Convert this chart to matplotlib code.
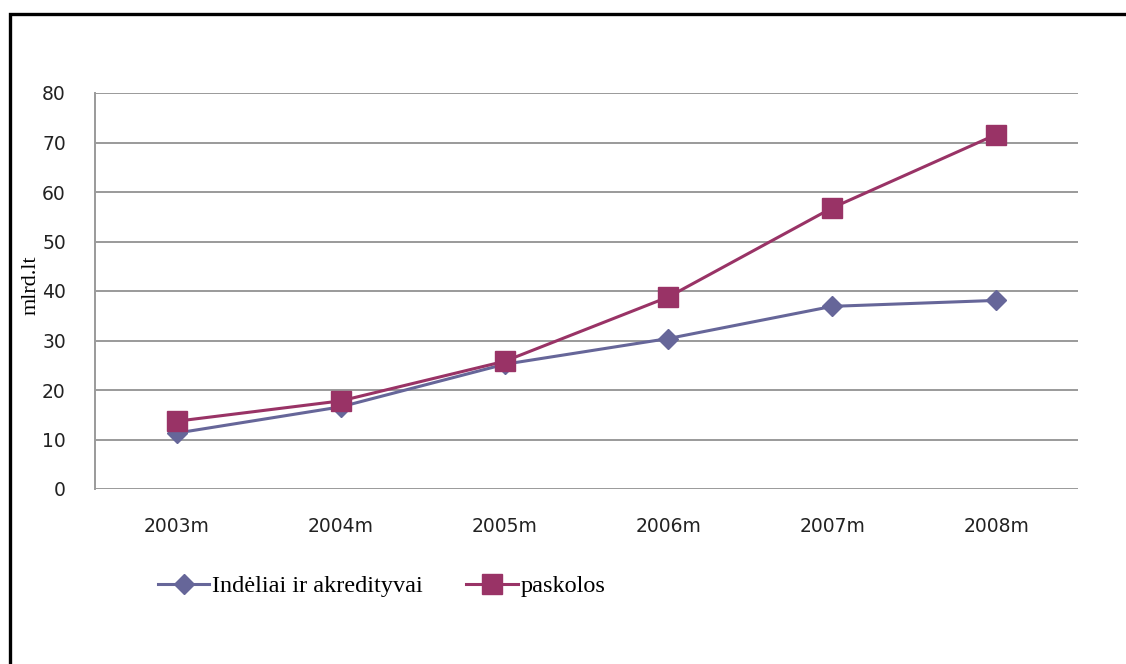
import matplotlib
matplotlib.use("Agg")
import matplotlib.pyplot as plt
from matplotlib.patches import Rectangle

categories = ["2003m", "2004m", "2005m", "2006m", "2007m", "2008m"]
indeliai = [11.3, 16.6, 25.2, 30.4, 36.9, 38.1]
paskolos = [13.7, 17.8, 25.8, 38.8, 56.8, 71.6]
yticks = [0, 10, 20, 30, 40, 50, 60, 70, 80]
label_indeliai = "Indėliai ir akredityvai"
label_paskolos = "paskolos"
ylabel = "mlrd.lt"

W, H = 1126, 664
fig = plt.figure(figsize=(W / 100, H / 100), dpi=100)
fig.patch.set_facecolor("white")

# outer frame (left & top visible, others cut off)
fig.patches.append(Rectangle((9.5 / W, -0.05), 1.2, 1 - 13.5 / H + 0.05,
                             transform=fig.transFigure, fill=False,
                             edgecolor="black", linewidth=2.4, zorder=10))

ax = fig.add_axes([95 / W, 1 - 489 / H, (1078 - 95) / W, (489 - 93) / H])
x = list(range(len(categories)))

l1, = ax.plot(x, indeliai, color="#666699", linewidth=2.2, marker="D",
              markersize=10, label=label_indeliai, zorder=3)
l2, = ax.plot(x, paskolos, color="#993366", linewidth=2.2, marker="s",
              markersize=14, label=label_paskolos, zorder=4)

ax.set_xlim(-0.5, len(categories) - 0.5)
ax.set_ylim(0, 80)
ax.set_yticks(yticks)
ax.set_xticks(x)
ax.set_xticklabels(categories)
ax.tick_params(axis="both", length=0, labelsize=13.5, colors="#222222")
ax.tick_params(axis="y", pad=21)
ax.tick_params(axis="x", pad=20)
ax.grid(axis="y", color="#9a9a9a", linewidth=1.4)
ax.set_axisbelow(True)
for s in ["top", "right", "bottom"]:
    ax.spines[s].set_visible(False)
ax.spines["left"].set_color("#9a9a9a")
ax.spines["left"].set_linewidth(1.4)

fig.text(31 / W, 1 - 285 / H, ylabel, rotation=90, ha="center", va="center",
         fontsize=16, family="Liberation Serif")

leg = fig.legend(handles=[l1, l2], loc="center left",
                 bbox_to_anchor=(158 / W, 1 - 586 / H), ncol=2, frameon=False,
                 prop={"family": "Liberation Serif", "size": 17.5},
                 borderpad=0, handlelength=2.1, handletextpad=0.12,
                 columnspacing=1.8, borderaxespad=0)

fig.savefig("out.png", dpi=100)
